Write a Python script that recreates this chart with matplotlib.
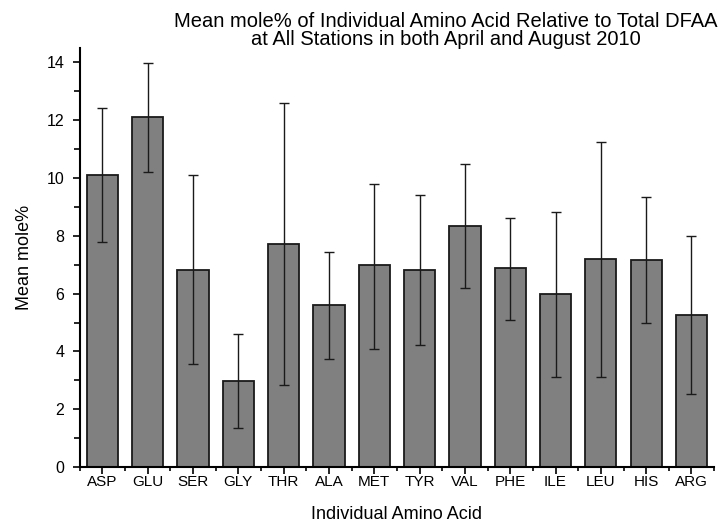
import matplotlib
matplotlib.use("Agg")
import matplotlib.pyplot as plt
import numpy as np
from matplotlib.ticker import MultipleLocator, FixedLocator

plt.rcParams["font.family"] = ["Liberation Sans", "DejaVu Sans"]

# Data
amino_acids = ["ASP", "GLU", "SER", "GLY", "THR", "ALA", "MET",
               "TYR", "VAL", "PHE", "ILE", "LEU", "HIS", "ARG"]
mean_mole = [10.12, 12.11, 6.83, 2.98, 7.72, 5.62, 6.98,
             6.81, 8.34, 6.87, 5.98, 7.21, 7.17, 5.25]
err_upper = [12.42, 13.99, 10.10, 4.59, 12.61, 7.44, 9.81,
             9.40, 10.48, 8.63, 8.81, 11.24, 9.34, 8.00]
err_lower = [7.77, 10.22, 3.56, 1.35, 2.83, 3.74, 4.10,
             4.22, 6.19, 5.07, 3.13, 3.13, 4.98, 2.51]


def main():
    fig = plt.figure(figsize=(7.25, 5.26), dpi=100)
    ax = fig.add_axes([0.110, 0.1122, 0.875, 0.7965])

    x = np.arange(len(amino_acids))
    means = np.array(mean_mole)
    yerr = [means - np.array(err_lower), np.array(err_upper) - means]

    ax.bar(x, means, width=0.69, color="#808080", edgecolor="#1a1a1a",
           linewidth=1.3, zorder=2)
    ax.errorbar(x, means, yerr=yerr, fmt="none", ecolor="#1a1a1a",
                elinewidth=1.0, capsize=3.5, capthick=1.0, zorder=3)

    ax.set_xlim(-0.5, len(amino_acids) - 0.5)
    ax.set_ylim(0, 14.5)

    for side in ("top", "right"):
        ax.spines[side].set_visible(False)
    for side in ("left", "bottom"):
        ax.spines[side].set_linewidth(1.5)

    ax.yaxis.set_major_locator(MultipleLocator(2))
    ax.yaxis.set_minor_locator(MultipleLocator(1))
    ax.set_xticks(x)
    ax.set_xticklabels(amino_acids)
    ax.xaxis.set_minor_locator(FixedLocator(np.arange(-0.5, len(amino_acids), 1.0)))

    ax.tick_params(axis="y", which="major", direction="out", length=5,
                   width=1.2, labelsize=11.5, pad=6)
    ax.tick_params(axis="y", which="minor", direction="out", length=4, width=1.2)
    ax.tick_params(axis="x", which="major", direction="out", length=5,
                   width=1.2, labelsize=11, pad=1)
    ax.tick_params(axis="x", which="minor", direction="out", length=3, width=1.2)

    ax.set_ylabel("Mean mole%", fontsize=13, labelpad=10)
    ax.set_xlabel("Individual Amino Acid", fontsize=13, labelpad=12)

    fig.text(0.615, 0.978,
             "Mean mole% of Individual Amino Acid Relative to Total DFAA\n"
             "at All Stations in both April and August 2010",
             ha="center", va="top", fontsize=14.5, linespacing=0.95)

    fig.savefig("out.png", dpi=100)


if __name__ == "__main__":
    main()
